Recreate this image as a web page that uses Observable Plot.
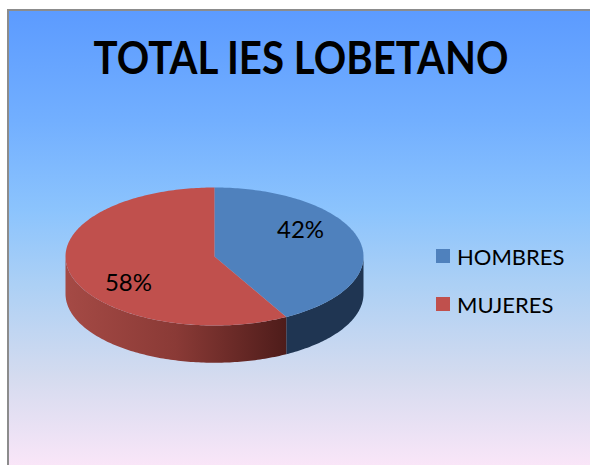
<!DOCTYPE html>
<html>
<head>
<meta charset="utf-8">
<script src="https://cdn.jsdelivr.net/npm/d3@7"></script>
<script src="https://cdn.jsdelivr.net/npm/@observablehq/plot@0.6"></script>
<style>
  html, body { margin: 0; padding: 0; background: #fff; }
  #wrap { position: relative; width: 590px; height: 465px; overflow: hidden; background: #fff; font-family: Lato, "Open Sans", sans-serif; }
  #frame { position: absolute; left: 7px; top: 9px; width: 583px; height: 456px;
    border-left: 2px solid #8c8c8c; border-top: 2px solid #8c8c8c;
    background: linear-gradient(to bottom, #5c9bff 0%, #72afff 24%, #8cc4fd 44%, #acd0f5 60%, #d4dbef 80%, #fae6f8 100%); }
  #title { position: absolute; left: 0; top: 0; width: 601px; height: 110px; text-align: center; }
  #title span { position: absolute; top: 35px; left: 50%; font-weight: 700; font-size: 45px; line-height: 1; color: #000; white-space: nowrap; transform-origin: center; }
  #plot { position: absolute; left: 0; top: 110px; }
  #legend { position: absolute; left: 436px; top: 240px; }
  .item { position: absolute; left: 0; display: flex; align-items: center; white-space: nowrap; font-size: 22px; color: #000; height: 30px; }
  .sw { width: 14px; height: 14px; margin-right: 7px; }
</style>
</head>
<body>
<div id="wrap">
  <div id="frame"></div>
  <div id="title"><span>TOTAL IES LOBETANO</span></div>
  <div id="plot"></div>
  <div id="legend"></div>
</div>
<script>
const categories = ["HOMBRES", "MUJERES"];
const values = [42, 58];
const labels = ["42%", "58%"];
const topColors = ["#4F81BD", "#C0504D"];
const sideColors = ["#1F3552", "url(#redSide)"];

// geometry helpers (ellipse units)
const depth = 0.54;
const total = d3.sum(values);
let acc = 0;
const slices = categories.map((c, i) => {
  const a0 = acc, a1 = acc + values[i] / total * 360;
  acc = a1;
  return {category: c, value: values[i], label: labels[i], a0, a1, mid: (a0 + a1) / 2};
});
const pt = (deg, dy) => {
  const r = deg * Math.PI / 180;
  return {x: Math.sin(r), y: -Math.cos(r) + dy};
};
const arc = (a0, a1, dy) => {
  const n = Math.max(2, Math.ceil(Math.abs(a1 - a0)));
  return d3.range(n + 1).map(k => pt(a0 + (a1 - a0) * k / n, dy));
};

const marks = [];
// sides (visible front half: 90..270 deg)
slices.forEach((s, i) => {
  const s0 = Math.max(s.a0, 90), s1 = Math.min(s.a1, 270);
  if (s1 > s0) {
    const poly = [...arc(s0, s1, 0), ...arc(s1, s0, depth)];
    marks.push(Plot.line(poly, {x: "x", y: "y", fill: sideColors[i], stroke: "none", curve: "linear"}));
  }
});
// tops
slices.forEach((s, i) => {
  const poly = [{x: 0, y: 0}, ...arc(s.a0, s.a1, 0)];
  marks.push(Plot.line(poly, {x: "x", y: "y", fill: topColors[i], stroke: "none", curve: "linear"}));
});
// labels
const labelPts = slices.map(s => {
  const p = pt(s.mid - 20, 0);
  return {x: p.x * 0.7, y: p.y * 0.68, label: s.label};
});
marks.push(Plot.text(labelPts, {x: "x", y: "y", text: "label", fontSize: 24, fill: "#000", fontFamily: "Lato, 'Open Sans', sans-serif"}));

const svg = Plot.plot({
  width: 590,
  height: 355,
  margin: 0,
  x: {domain: [-1, 1], range: [65, 363], axis: null},
  y: {domain: [-1, 1], range: [77, 215], axis: null},
  style: {background: "transparent", overflow: "visible"},
  marks
});
const defs = d3.select(svg).insert("defs", ":first-child");
const g = defs.append("linearGradient").attr("id", "redSide").attr("x1", 0).attr("x2", 1).attr("y1", 0).attr("y2", 0);
g.append("stop").attr("offset", 0).attr("stop-color", "#A54A45");
g.append("stop").attr("offset", 0.5).attr("stop-color", "#8A3A36");
g.append("stop").attr("offset", 1).attr("stop-color", "#4E1C1A");
document.getElementById("plot").appendChild(svg);

// legend
const leg = document.getElementById("legend");
categories.forEach((c, i) => {
  const it = document.createElement("div");
  it.className = "item";
  it.style.top = (i * 48 + 1) + "px";
  const sw = document.createElement("div");
  sw.className = "sw";
  sw.style.background = topColors[i];
  const tx = document.createElement("span");
  tx.textContent = c;
  it.appendChild(sw); it.appendChild(tx);
  leg.appendChild(it);
});

// fit title width
const t = document.querySelector("#title span");
const w = t.getBoundingClientRect().width;
t.style.transform = `translateX(-50%) scaleX(${415 / w})`;
</script>
</body>
</html>
